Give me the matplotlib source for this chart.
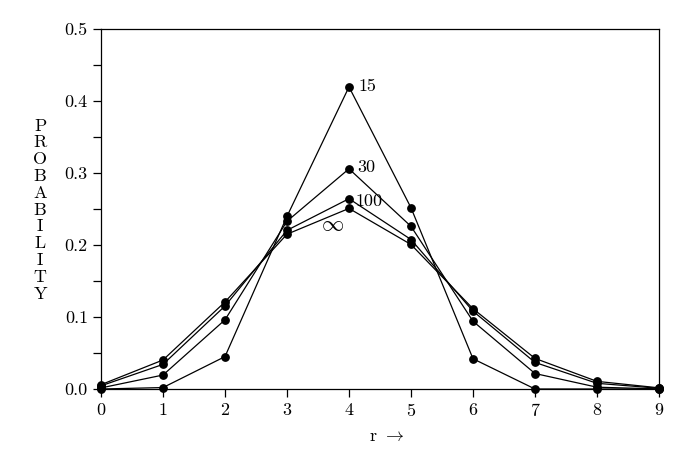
import matplotlib
matplotlib.use("Agg")
import matplotlib.pyplot as plt
from matplotlib.ticker import MultipleLocator

plt.rcParams['font.family'] = ['cmr10', 'DejaVu Serif']
plt.rcParams['mathtext.fontset'] = 'cm'
plt.rcParams['axes.formatter.use_mathtext'] = True

r = [0, 1, 2, 3, 4, 5, 6, 7, 8, 9]
p15 = [0.0, 0.0020, 0.0450, 0.2398, 0.4196, 0.2517, 0.0420, 0.0, 0.0, 0.0]
p30 = [0.0015, 0.0194, 0.0961, 0.2330, 0.3058, 0.2259, 0.0941, 0.0215, 0.0025, 0.0001]
p100 = [0.0044, 0.0342, 0.1153, 0.2204, 0.2643, 0.2076, 0.1081, 0.0369, 0.0079, 0.0010]
pinf = [0.0060, 0.0403, 0.1209, 0.2150, 0.2508, 0.2007, 0.1115, 0.0425, 0.0106, 0.0016]
series = [p15, p30, p100, pinf]

fig = plt.figure(figsize=(6.88, 4.5), dpi=100)
ax = fig.add_axes([101/688, 1-389/450, 558/688, 360/450])

for s in series:
    ax.plot(r, s, color='black', lw=0.9, marker='o', ms=5.3, mfc='black', mec='black', clip_on=False, zorder=3)

ax.text(4.16, 0.421, '15', fontsize=13, va='center', ha='left')
ax.text(4.13, 0.308, '30', fontsize=13, va='center', ha='left')
ax.text(4.11, 0.260, '100', fontsize=13, va='center', ha='left')
ax.text(3.74, 0.228, r'$\infty$', fontsize=16, va='center', ha='center')

ax.set_xlim(0, 9)
ax.set_ylim(0, 0.5)
ax.xaxis.set_major_locator(MultipleLocator(1))
ax.yaxis.set_major_locator(MultipleLocator(0.1))
ax.yaxis.set_minor_locator(MultipleLocator(0.05))
ax.yaxis.set_major_formatter(matplotlib.ticker.FormatStrFormatter('%.1f'))
ax.tick_params(axis='both', which='both', direction='out', length=6, width=0.9, labelsize=13)
ax.tick_params(axis='both', which='both', top=False, right=False)
for sp in ax.spines.values():
    sp.set_linewidth(0.9)

fig.text(40/688, 1-210/450, '\n'.join('PROBABILITY'), fontsize=13, ha='center', va='center', linespacing=1.12)
fig.text(387/688, 1-436/450, r'r $\rightarrow$', fontsize=13, ha='center', va='center')

fig.savefig('out.png', dpi=100)
